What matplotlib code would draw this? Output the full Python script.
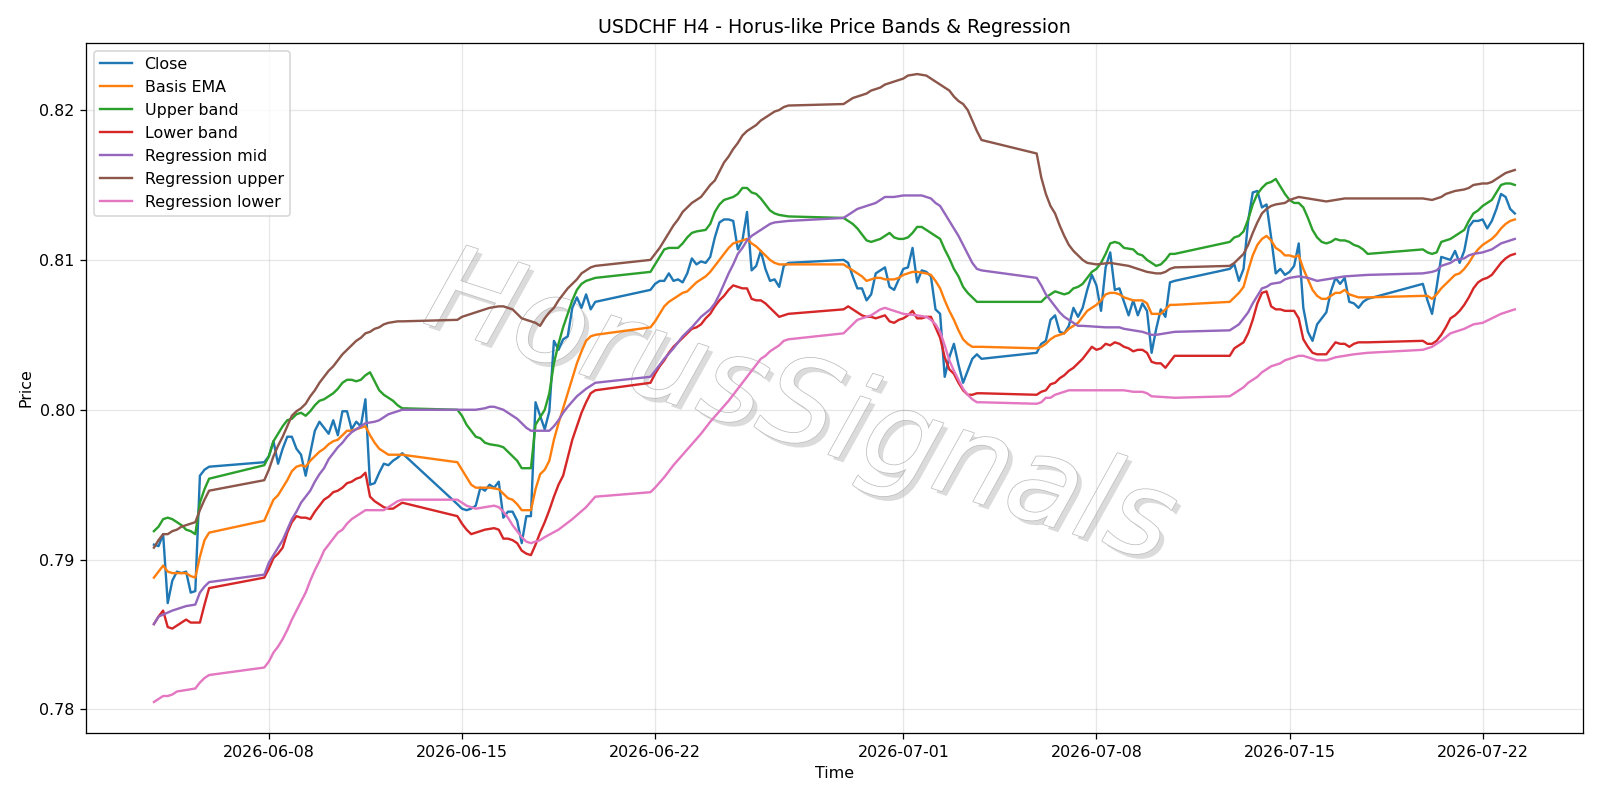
import matplotlib
matplotlib.use("Agg")
import matplotlib.pyplot as plt
import matplotlib.patheffects as pe
import pandas as pd

# (MM-DD HH, value), year 2026
close = [
    ("06-03 20", 0.7910), ("06-04 00", 0.7909), ("06-04 04", 0.7917), ("06-04 08", 0.7871), ("06-04 12", 0.7886),
    ("06-04 16", 0.7892), ("06-04 20", 0.7891), ("06-05 00", 0.7892), ("06-05 04", 0.7878), ("06-05 08", 0.7879),
    ("06-05 12", 0.7956), ("06-05 16", 0.7960), ("06-05 20", 0.7962),
    ("06-07 20", 0.7965), ("06-08 00", 0.7969), ("06-08 04", 0.7979), ("06-08 08", 0.7964), ("06-08 12", 0.7974),
    ("06-08 16", 0.7982), ("06-08 20", 0.7982), ("06-09 00", 0.7974), ("06-09 04", 0.7970), ("06-09 08", 0.7956),
    ("06-09 12", 0.7971), ("06-09 16", 0.7986), ("06-09 20", 0.7992), ("06-10 00", 0.7988), ("06-10 04", 0.7984),
    ("06-10 08", 0.7993), ("06-10 12", 0.7983), ("06-10 16", 0.7999), ("06-10 20", 0.7999), ("06-11 00", 0.7987),
    ("06-11 04", 0.7992), ("06-11 08", 0.7989), ("06-11 12", 0.8007), ("06-11 16", 0.7950), ("06-11 20", 0.7951),
    ("06-12 00", 0.7958), ("06-12 04", 0.7964), ("06-12 08", 0.7963), ("06-12 12", 0.7966), ("06-12 16", 0.7968),
    ("06-12 20", 0.7971),
    ("06-14 20", 0.7937), ("06-15 00", 0.7934), ("06-15 04", 0.7933), ("06-15 08", 0.7934), ("06-15 12", 0.7936),
    ("06-15 16", 0.7948), ("06-15 20", 0.7946), ("06-16 00", 0.7950), ("06-16 04", 0.7948), ("06-16 08", 0.7952),
    ("06-16 12", 0.7928), ("06-16 16", 0.7932), ("06-16 20", 0.7932), ("06-17 00", 0.7926), ("06-17 04", 0.7911),
    ("06-17 08", 0.7929), ("06-17 12", 0.7929), ("06-17 16", 0.8005), ("06-17 20", 0.7996), ("06-18 00", 0.7987),
    ("06-18 04", 0.7999), ("06-18 08", 0.8046), ("06-18 12", 0.8040), ("06-18 16", 0.8047), ("06-18 20", 0.8049),
    ("06-19 00", 0.8068), ("06-19 04", 0.8075), ("06-19 08", 0.8068), ("06-19 12", 0.8077), ("06-19 16", 0.8067),
    ("06-19 20", 0.8072),
    ("06-21 20", 0.8080), ("06-22 00", 0.8084), ("06-22 04", 0.8086), ("06-22 08", 0.8086), ("06-22 12", 0.8091),
    ("06-22 16", 0.8086), ("06-22 20", 0.8087), ("06-23 00", 0.8085), ("06-23 04", 0.8091), ("06-23 08", 0.8101),
    ("06-23 12", 0.8097), ("06-23 16", 0.8099), ("06-23 20", 0.8098), ("06-24 00", 0.8102), ("06-24 04", 0.8115),
    ("06-24 08", 0.8125), ("06-24 12", 0.8127), ("06-24 16", 0.8127), ("06-24 20", 0.8126), ("06-25 00", 0.8107),
    ("06-25 04", 0.8113), ("06-25 08", 0.8132), ("06-25 12", 0.8093), ("06-25 16", 0.8096), ("06-25 20", 0.8106),
    ("06-26 00", 0.8094), ("06-26 04", 0.8086), ("06-26 08", 0.8087), ("06-26 12", 0.8082), ("06-26 16", 0.8096),
    ("06-26 20", 0.8098),
    ("06-28 20", 0.8100), ("06-29 00", 0.8098), ("06-29 04", 0.8089), ("06-29 08", 0.8081), ("06-29 12", 0.8081),
    ("06-29 16", 0.8073), ("06-29 20", 0.8077), ("06-30 00", 0.8091), ("06-30 04", 0.8093), ("06-30 08", 0.8095),
    ("06-30 12", 0.8082), ("06-30 16", 0.8080), ("06-30 20", 0.8087), ("07-01 00", 0.8094), ("07-01 04", 0.8095),
    ("07-01 08", 0.8108), ("07-01 12", 0.8085), ("07-01 16", 0.8093), ("07-01 20", 0.8092), ("07-02 00", 0.8089),
    ("07-02 04", 0.8067), ("07-02 08", 0.8064), ("07-02 12", 0.8022), ("07-02 16", 0.8035), ("07-02 20", 0.8044),
    ("07-03 00", 0.8030), ("07-03 04", 0.8018), ("07-03 08", 0.8026), ("07-03 12", 0.8034), ("07-03 16", 0.8037),
    ("07-03 20", 0.8034),
    ("07-05 20", 0.8038), ("07-06 00", 0.8044), ("07-06 04", 0.8046), ("07-06 08", 0.8060), ("07-06 12", 0.8063),
    ("07-06 16", 0.8052), ("07-06 20", 0.8051), ("07-07 00", 0.8056), ("07-07 04", 0.8068), ("07-07 08", 0.8062),
    ("07-07 12", 0.8068), ("07-07 16", 0.8080), ("07-07 20", 0.8090), ("07-08 00", 0.8083), ("07-08 04", 0.8066),
    ("07-08 08", 0.8095), ("07-08 12", 0.8105), ("07-08 16", 0.8080), ("07-08 20", 0.8081), ("07-09 00", 0.8072),
    ("07-09 04", 0.8063), ("07-09 08", 0.8073), ("07-09 12", 0.8063), ("07-09 16", 0.8071), ("07-09 20", 0.8066),
    ("07-10 00", 0.8038), ("07-10 04", 0.8054), ("07-10 08", 0.8067), ("07-10 12", 0.8062), ("07-10 16", 0.8085),
    ("07-10 20", 0.8086),
    ("07-12 20", 0.8094), ("07-13 00", 0.8097), ("07-13 04", 0.8086), ("07-13 08", 0.8094), ("07-13 12", 0.8126),
    ("07-13 16", 0.8145), ("07-13 20", 0.8146), ("07-14 00", 0.8135), ("07-14 04", 0.8137), ("07-14 08", 0.8115),
    ("07-14 12", 0.8091), ("07-14 16", 0.8094), ("07-14 20", 0.8090), ("07-15 00", 0.8092), ("07-15 04", 0.8096),
    ("07-15 08", 0.8111), ("07-15 12", 0.8068), ("07-15 16", 0.8052), ("07-15 20", 0.8046), ("07-16 00", 0.8057),
    ("07-16 04", 0.8061), ("07-16 08", 0.8065), ("07-16 12", 0.8079), ("07-16 16", 0.8088), ("07-16 20", 0.8084),
    ("07-17 00", 0.8088), ("07-17 04", 0.8072), ("07-17 08", 0.8071), ("07-17 12", 0.8068), ("07-17 16", 0.8072),
    ("07-17 20", 0.8074),
    ("07-19 20", 0.8084), ("07-20 00", 0.8073), ("07-20 04", 0.8064), ("07-20 08", 0.8082), ("07-20 12", 0.8102),
    ("07-20 16", 0.8101), ("07-20 20", 0.8100), ("07-21 00", 0.8106), ("07-21 04", 0.8098), ("07-21 08", 0.8106),
    ("07-21 12", 0.8122), ("07-21 16", 0.8126), ("07-21 20", 0.8126), ("07-22 00", 0.8127), ("07-22 04", 0.8121),
    ("07-22 08", 0.8126), ("07-22 12", 0.8134), ("07-22 16", 0.8144), ("07-22 20", 0.8142), ("07-23 00", 0.8134),
    ("07-23 04", 0.8131),
]

basis_ema = [
    ("06-03 20", 0.7888), ("06-04 00", 0.7892), ("06-04 04", 0.7896), ("06-04 08", 0.7892), ("06-04 12", 0.7891),
    ("06-05 00", 0.7891), ("06-05 04", 0.7889), ("06-05 08", 0.7888), ("06-05 12", 0.7902), ("06-05 16", 0.7913),
    ("06-05 20", 0.7918),
    ("06-07 20", 0.7926), ("06-08 00", 0.7933), ("06-08 04", 0.7940), ("06-08 08", 0.7943), ("06-08 12", 0.7948),
    ("06-08 16", 0.7953), ("06-08 20", 0.7959), ("06-09 00", 0.7962), ("06-09 04", 0.7963), ("06-09 08", 0.7962),
    ("06-09 12", 0.7966), ("06-09 16", 0.7969), ("06-09 20", 0.7972), ("06-10 00", 0.7974), ("06-10 04", 0.7977),
    ("06-10 08", 0.7979), ("06-10 12", 0.7980), ("06-10 16", 0.7983), ("06-10 20", 0.7986), ("06-11 00", 0.7986),
    ("06-11 04", 0.7987), ("06-11 08", 0.7988), ("06-11 12", 0.7989), ("06-11 16", 0.7983), ("06-11 20", 0.7978),
    ("06-12 00", 0.7974), ("06-12 04", 0.7972), ("06-12 08", 0.7970), ("06-12 12", 0.7970), ("06-12 20", 0.7970),
    ("06-14 20", 0.7965), ("06-15 00", 0.7960), ("06-15 04", 0.7955), ("06-15 08", 0.7950), ("06-15 12", 0.7948),
    ("06-16 00", 0.7948), ("06-16 08", 0.7947), ("06-16 12", 0.7944), ("06-16 16", 0.7941), ("06-16 20", 0.7940),
    ("06-17 00", 0.7937), ("06-17 04", 0.7933), ("06-17 08", 0.7933), ("06-17 12", 0.7933), ("06-17 16", 0.7947),
    ("06-17 20", 0.7957), ("06-18 00", 0.7960), ("06-18 04", 0.7966), ("06-18 08", 0.7980), ("06-18 12", 0.7991),
    ("06-18 16", 0.8001), ("06-18 20", 0.8011), ("06-19 00", 0.8021), ("06-19 04", 0.8031), ("06-19 08", 0.8039),
    ("06-19 12", 0.8046), ("06-19 16", 0.8049), ("06-19 20", 0.8050),
    ("06-21 20", 0.8055), ("06-22 00", 0.8059), ("06-22 04", 0.8064), ("06-22 08", 0.8069), ("06-22 12", 0.8072),
    ("06-22 16", 0.8074), ("06-22 20", 0.8076), ("06-23 00", 0.8078), ("06-23 04", 0.8079), ("06-23 08", 0.8082),
    ("06-23 12", 0.8085), ("06-23 16", 0.8087), ("06-23 20", 0.8089), ("06-24 00", 0.8092), ("06-24 04", 0.8096),
    ("06-24 08", 0.8100), ("06-24 12", 0.8104), ("06-24 16", 0.8108), ("06-24 20", 0.8111), ("06-25 00", 0.8112),
    ("06-25 04", 0.8113), ("06-25 08", 0.8114), ("06-25 12", 0.8111), ("06-25 16", 0.8109), ("06-25 20", 0.8106),
    ("06-26 00", 0.8103), ("06-26 04", 0.8100), ("06-26 08", 0.8098), ("06-26 12", 0.8097), ("06-26 20", 0.8097),
    ("06-28 20", 0.8097), ("06-29 00", 0.8095), ("06-29 04", 0.8093), ("06-29 08", 0.8091), ("06-29 12", 0.8089),
    ("06-29 16", 0.8086), ("06-29 20", 0.8087), ("06-30 00", 0.8088), ("06-30 04", 0.8088), ("06-30 08", 0.8087),
    ("06-30 16", 0.8087), ("06-30 20", 0.8088), ("07-01 00", 0.8090), ("07-01 04", 0.8091), ("07-01 08", 0.8092),
    ("07-01 12", 0.8092), ("07-01 20", 0.8091), ("07-02 00", 0.8090), ("07-02 04", 0.8086), ("07-02 08", 0.8081),
    ("07-02 12", 0.8073), ("07-02 16", 0.8066), ("07-02 20", 0.8060), ("07-03 00", 0.8053), ("07-03 04", 0.8047),
    ("07-03 08", 0.8044), ("07-03 12", 0.8042), ("07-03 20", 0.8042),
    ("07-05 20", 0.8041), ("07-06 00", 0.8042), ("07-06 04", 0.8044), ("07-06 08", 0.8047), ("07-06 12", 0.8049),
    ("07-06 16", 0.8050), ("07-06 20", 0.8051), ("07-07 00", 0.8054), ("07-07 04", 0.8056), ("07-07 08", 0.8058),
    ("07-07 12", 0.8062), ("07-07 16", 0.8066), ("07-07 20", 0.8068), ("07-08 00", 0.8070), ("07-08 04", 0.8073),
    ("07-08 08", 0.8077), ("07-08 12", 0.8078), ("07-08 16", 0.8078), ("07-08 20", 0.8077), ("07-09 00", 0.8075),
    ("07-09 04", 0.8074), ("07-09 08", 0.8073), ("07-09 16", 0.8073), ("07-09 20", 0.8071), ("07-10 00", 0.8064),
    ("07-10 08", 0.8064), ("07-10 12", 0.8067), ("07-10 16", 0.8070), ("07-10 20", 0.8070),
    ("07-12 20", 0.8072), ("07-13 00", 0.8075), ("07-13 04", 0.8078), ("07-13 08", 0.8082), ("07-13 12", 0.8093),
    ("07-13 16", 0.8103), ("07-13 20", 0.8110), ("07-14 00", 0.8114), ("07-14 04", 0.8116), ("07-14 08", 0.8113),
    ("07-14 12", 0.8108), ("07-14 16", 0.8106), ("07-14 20", 0.8103), ("07-15 00", 0.8103), ("07-15 04", 0.8102),
    ("07-15 08", 0.8103), ("07-15 12", 0.8094), ("07-15 16", 0.8087), ("07-15 20", 0.8080), ("07-16 00", 0.8076),
    ("07-16 04", 0.8074), ("07-16 08", 0.8074), ("07-16 12", 0.8076), ("07-16 16", 0.8078), ("07-16 20", 0.8078),
    ("07-17 00", 0.8080), ("07-17 04", 0.8077), ("07-17 08", 0.8076), ("07-17 12", 0.8075), ("07-17 20", 0.8075),
    ("07-19 20", 0.8076), ("07-20 00", 0.8076), ("07-20 04", 0.8074), ("07-20 08", 0.8077), ("07-20 12", 0.8081),
    ("07-20 16", 0.8084), ("07-20 20", 0.8087), ("07-21 00", 0.8090), ("07-21 04", 0.8091), ("07-21 08", 0.8094),
    ("07-21 12", 0.8098), ("07-21 16", 0.8103), ("07-21 20", 0.8107), ("07-22 00", 0.8110), ("07-22 04", 0.8112),
    ("07-22 08", 0.8114), ("07-22 12", 0.8117), ("07-22 16", 0.8121), ("07-22 20", 0.8124), ("07-23 00", 0.8126),
    ("07-23 04", 0.8127),
]

upper_band = [
    ("06-03 20", 0.7919), ("06-04 00", 0.7922), ("06-04 04", 0.7927), ("06-04 08", 0.7928), ("06-04 12", 0.7927),
    ("06-04 16", 0.7925), ("06-04 20", 0.7923), ("06-05 00", 0.7920), ("06-05 04", 0.7919), ("06-05 08", 0.7917),
    ("06-05 12", 0.7938), ("06-05 16", 0.7947), ("06-05 20", 0.7954),
    ("06-07 20", 0.7963), ("06-08 00", 0.7969), ("06-08 04", 0.7979), ("06-08 08", 0.7984), ("06-08 12", 0.7989),
    ("06-08 16", 0.7993), ("06-08 20", 0.7994), ("06-09 00", 0.7997), ("06-09 04", 0.7998), ("06-09 08", 0.7996),
    ("06-09 12", 0.7999), ("06-09 16", 0.8003), ("06-09 20", 0.8006), ("06-10 00", 0.8007), ("06-10 04", 0.8009),
    ("06-10 08", 0.8011), ("06-10 12", 0.8014), ("06-10 16", 0.8018), ("06-10 20", 0.8020), ("06-11 00", 0.8020),
    ("06-11 04", 0.8019), ("06-11 08", 0.8020), ("06-11 12", 0.8023), ("06-11 16", 0.8025), ("06-11 20", 0.8019),
    ("06-12 00", 0.8013), ("06-12 04", 0.8010), ("06-12 08", 0.8008), ("06-12 12", 0.8006), ("06-12 16", 0.8003),
    ("06-12 20", 0.8001),
    ("06-14 20", 0.8000), ("06-15 00", 0.7996), ("06-15 04", 0.7990), ("06-15 08", 0.7986), ("06-15 12", 0.7982),
    ("06-15 16", 0.7981), ("06-15 20", 0.7978), ("06-16 00", 0.7977), ("06-16 08", 0.7976), ("06-16 12", 0.7975),
    ("06-16 16", 0.7972), ("06-16 20", 0.7969), ("06-17 00", 0.7966), ("06-17 04", 0.7961), ("06-17 12", 0.7961),
    ("06-17 16", 0.7990), ("06-17 20", 0.7995), ("06-18 00", 0.8000), ("06-18 04", 0.8011), ("06-18 08", 0.8031),
    ("06-18 12", 0.8044), ("06-18 16", 0.8055), ("06-18 20", 0.8064), ("06-19 00", 0.8073), ("06-19 04", 0.8080),
    ("06-19 08", 0.8084), ("06-19 12", 0.8086), ("06-19 16", 0.8087), ("06-19 20", 0.8088),
    ("06-21 20", 0.8092), ("06-22 00", 0.8097), ("06-22 04", 0.8102), ("06-22 08", 0.8107), ("06-22 12", 0.8108),
    ("06-22 20", 0.8108), ("06-23 00", 0.8111), ("06-23 04", 0.8115), ("06-23 08", 0.8118), ("06-23 12", 0.8119),
    ("06-23 20", 0.8120), ("06-24 00", 0.8124), ("06-24 04", 0.8132), ("06-24 08", 0.8137), ("06-24 12", 0.8140),
    ("06-24 16", 0.8141), ("06-24 20", 0.8142), ("06-25 00", 0.8144), ("06-25 04", 0.8148), ("06-25 08", 0.8148),
    ("06-25 12", 0.8145), ("06-25 16", 0.8144), ("06-25 20", 0.8141), ("06-26 00", 0.8137), ("06-26 04", 0.8133),
    ("06-26 08", 0.8131), ("06-26 12", 0.8130), ("06-26 20", 0.8129),
    ("06-28 20", 0.8128), ("06-29 00", 0.8126), ("06-29 04", 0.8124), ("06-29 08", 0.8121), ("06-29 12", 0.8117),
    ("06-29 16", 0.8113), ("06-29 20", 0.8112), ("06-30 00", 0.8113), ("06-30 04", 0.8114), ("06-30 08", 0.8116),
    ("06-30 12", 0.8118), ("06-30 16", 0.8115), ("06-30 20", 0.8114), ("07-01 00", 0.8114), ("07-01 04", 0.8115),
    ("07-01 08", 0.8118), ("07-01 12", 0.8122), ("07-01 16", 0.8122), ("07-01 20", 0.8120), ("07-02 00", 0.8118),
    ("07-02 04", 0.8116), ("07-02 08", 0.8114), ("07-02 12", 0.8107), ("07-02 16", 0.8101), ("07-02 20", 0.8094),
    ("07-03 00", 0.8089), ("07-03 04", 0.8082), ("07-03 08", 0.8078), ("07-03 12", 0.8075), ("07-03 16", 0.8072),
    ("07-03 20", 0.8072),
    ("07-05 20", 0.8072), ("07-06 00", 0.8072), ("07-06 04", 0.8075), ("07-06 08", 0.8077), ("07-06 12", 0.8079),
    ("07-06 16", 0.8078), ("07-06 20", 0.8077), ("07-07 00", 0.8078), ("07-07 04", 0.8081), ("07-07 08", 0.8082),
    ("07-07 12", 0.8084), ("07-07 16", 0.8088), ("07-07 20", 0.8092), ("07-08 00", 0.8094), ("07-08 04", 0.8098),
    ("07-08 08", 0.8104), ("07-08 12", 0.8111), ("07-08 16", 0.8112), ("07-08 20", 0.8111), ("07-09 00", 0.8108),
    ("07-09 08", 0.8107), ("07-09 12", 0.8104), ("07-09 16", 0.8103), ("07-09 20", 0.8100), ("07-10 00", 0.8098),
    ("07-10 04", 0.8096), ("07-10 08", 0.8097), ("07-10 12", 0.8100), ("07-10 16", 0.8104), ("07-10 20", 0.8104),
    ("07-12 20", 0.8112), ("07-13 00", 0.8115), ("07-13 04", 0.8116), ("07-13 08", 0.8119), ("07-13 12", 0.8127),
    ("07-13 16", 0.8137), ("07-13 20", 0.8144), ("07-14 00", 0.8148), ("07-14 04", 0.8151), ("07-14 08", 0.8152),
    ("07-14 12", 0.8154), ("07-14 16", 0.8149), ("07-14 20", 0.8144), ("07-15 00", 0.8140), ("07-15 04", 0.8138),
    ("07-15 08", 0.8138), ("07-15 12", 0.8135), ("07-15 16", 0.8128), ("07-15 20", 0.8120), ("07-16 00", 0.8115),
    ("07-16 04", 0.8112), ("07-16 08", 0.8111), ("07-16 12", 0.8112), ("07-16 16", 0.8114), ("07-16 20", 0.8113),
    ("07-17 00", 0.8113), ("07-17 04", 0.8112), ("07-17 08", 0.8110), ("07-17 12", 0.8109), ("07-17 16", 0.8107),
    ("07-17 20", 0.8104),
    ("07-19 20", 0.8107), ("07-20 00", 0.8105), ("07-20 04", 0.8104), ("07-20 08", 0.8105), ("07-20 12", 0.8112),
    ("07-20 16", 0.8113), ("07-20 20", 0.8114), ("07-21 00", 0.8116), ("07-21 04", 0.8118), ("07-21 08", 0.8120),
    ("07-21 12", 0.8126), ("07-21 16", 0.8131), ("07-21 20", 0.8133), ("07-22 00", 0.8136), ("07-22 04", 0.8138),
    ("07-22 08", 0.8140), ("07-22 12", 0.8145), ("07-22 16", 0.8150), ("07-22 20", 0.8151), ("07-23 00", 0.8151),
    ("07-23 04", 0.8150),
]

lower_band = [
    ("06-03 20", 0.7857), ("06-04 00", 0.7862), ("06-04 04", 0.7866), ("06-04 08", 0.7855), ("06-04 12", 0.7854),
    ("06-04 16", 0.7856), ("06-04 20", 0.7858), ("06-05 00", 0.7860), ("06-05 04", 0.7858), ("06-05 12", 0.7858),
    ("06-05 16", 0.7870), ("06-05 20", 0.7881),
    ("06-07 20", 0.7888), ("06-08 00", 0.7894), ("06-08 04", 0.7901), ("06-08 08", 0.7904), ("06-08 12", 0.7908),
    ("06-08 16", 0.7918), ("06-08 20", 0.7925), ("06-09 00", 0.7929), ("06-09 04", 0.7928), ("06-09 08", 0.7928),
    ("06-09 12", 0.7927), ("06-09 16", 0.7932), ("06-09 20", 0.7936), ("06-10 00", 0.7940), ("06-10 04", 0.7942),
    ("06-10 08", 0.7945), ("06-10 12", 0.7946), ("06-10 16", 0.7948), ("06-10 20", 0.7951), ("06-11 00", 0.7952),
    ("06-11 04", 0.7954), ("06-11 08", 0.7955), ("06-11 12", 0.7958), ("06-11 16", 0.7942), ("06-11 20", 0.7939),
    ("06-12 00", 0.7937), ("06-12 04", 0.7935), ("06-12 08", 0.7934), ("06-12 12", 0.7934), ("06-12 16", 0.7936),
    ("06-12 20", 0.7938),
    ("06-14 20", 0.7929), ("06-15 00", 0.7924), ("06-15 04", 0.7920), ("06-15 08", 0.7917), ("06-15 12", 0.7918),
    ("06-15 16", 0.7919), ("06-15 20", 0.7920), ("06-16 04", 0.7921), ("06-16 08", 0.7920), ("06-16 12", 0.7914),
    ("06-16 16", 0.7914), ("06-16 20", 0.7913), ("06-17 00", 0.7911), ("06-17 04", 0.7906), ("06-17 08", 0.7904),
    ("06-17 12", 0.7903), ("06-17 16", 0.7910), ("06-17 20", 0.7918), ("06-18 00", 0.7925), ("06-18 04", 0.7933),
    ("06-18 08", 0.7942), ("06-18 12", 0.7950), ("06-18 16", 0.7956), ("06-18 20", 0.7968), ("06-19 00", 0.7980),
    ("06-19 04", 0.7989), ("06-19 08", 0.7998), ("06-19 12", 0.8005), ("06-19 16", 0.8011), ("06-19 20", 0.8013),
    ("06-21 20", 0.8018), ("06-22 00", 0.8024), ("06-22 04", 0.8029), ("06-22 08", 0.8033), ("06-22 12", 0.8038),
    ("06-22 16", 0.8042), ("06-22 20", 0.8045), ("06-23 00", 0.8048), ("06-23 04", 0.8051), ("06-23 08", 0.8054),
    ("06-23 12", 0.8055), ("06-23 16", 0.8057), ("06-23 20", 0.8061), ("06-24 00", 0.8064), ("06-24 04", 0.8069),
    ("06-24 08", 0.8073), ("06-24 12", 0.8076), ("06-24 16", 0.8080), ("06-24 20", 0.8083), ("06-25 00", 0.8082),
    ("06-25 04", 0.8081), ("06-25 08", 0.8081), ("06-25 12", 0.8074), ("06-25 16", 0.8073), ("06-25 20", 0.8073),
    ("06-26 00", 0.8071), ("06-26 04", 0.8068), ("06-26 08", 0.8065), ("06-26 12", 0.8062), ("06-26 16", 0.8063),
    ("06-26 20", 0.8064),
    ("06-28 20", 0.8067), ("06-29 00", 0.8069), ("06-29 04", 0.8067), ("06-29 08", 0.8065), ("06-29 12", 0.8063),
    ("06-29 16", 0.8062), ("06-29 20", 0.8062), ("06-30 00", 0.8061), ("06-30 04", 0.8062), ("06-30 08", 0.8063),
    ("06-30 12", 0.8059), ("06-30 16", 0.8058), ("06-30 20", 0.8060), ("07-01 00", 0.8061), ("07-01 04", 0.8063),
    ("07-01 08", 0.8066), ("07-01 12", 0.8061), ("07-01 16", 0.8061), ("07-01 20", 0.8062), ("07-02 00", 0.8062),
    ("07-02 04", 0.8055), ("07-02 08", 0.8048), ("07-02 12", 0.8035), ("07-02 16", 0.8027), ("07-02 20", 0.8024),
    ("07-03 00", 0.8018), ("07-03 04", 0.8013), ("07-03 08", 0.8010), ("07-03 12", 0.8010), ("07-03 16", 0.8011),
    ("07-03 20", 0.8011),
    ("07-05 20", 0.8010), ("07-06 00", 0.8012), ("07-06 04", 0.8013), ("07-06 08", 0.8017), ("07-06 12", 0.8018),
    ("07-06 16", 0.8021), ("07-06 20", 0.8023), ("07-07 00", 0.8026), ("07-07 04", 0.8028), ("07-07 08", 0.8031),
    ("07-07 12", 0.8034), ("07-07 16", 0.8038), ("07-07 20", 0.8042), ("07-08 00", 0.8040), ("07-08 04", 0.8041),
    ("07-08 08", 0.8044), ("07-08 12", 0.8043), ("07-08 16", 0.8045), ("07-08 20", 0.8044), ("07-09 00", 0.8042),
    ("07-09 04", 0.8041), ("07-09 08", 0.8039), ("07-09 12", 0.8040), ("07-09 16", 0.8040), ("07-09 20", 0.8038),
    ("07-10 00", 0.8032), ("07-10 04", 0.8031), ("07-10 08", 0.8031), ("07-10 12", 0.8028), ("07-10 16", 0.8032),
    ("07-10 20", 0.8036),
    ("07-12 20", 0.8036), ("07-13 00", 0.8041), ("07-13 04", 0.8043), ("07-13 08", 0.8045), ("07-13 12", 0.8051),
    ("07-13 16", 0.8060), ("07-13 20", 0.8071), ("07-14 00", 0.8078), ("07-14 04", 0.8079), ("07-14 08", 0.8069),
    ("07-14 12", 0.8067), ("07-14 16", 0.8067), ("07-14 20", 0.8066), ("07-15 04", 0.8066), ("07-15 08", 0.8061),
    ("07-15 12", 0.8047), ("07-15 16", 0.8042), ("07-15 20", 0.8038), ("07-16 00", 0.8037), ("07-16 08", 0.8037),
    ("07-16 12", 0.8041), ("07-16 16", 0.8045), ("07-16 20", 0.8044), ("07-17 00", 0.8044), ("07-17 04", 0.8042),
    ("07-17 08", 0.8044), ("07-17 12", 0.8045), ("07-17 20", 0.8045),
    ("07-19 20", 0.8046), ("07-20 00", 0.8044), ("07-20 04", 0.8044), ("07-20 08", 0.8046), ("07-20 12", 0.8050),
    ("07-20 16", 0.8055), ("07-20 20", 0.8061), ("07-21 00", 0.8063), ("07-21 04", 0.8066), ("07-21 08", 0.8070),
    ("07-21 12", 0.8075), ("07-21 16", 0.8081), ("07-21 20", 0.8085), ("07-22 00", 0.8087), ("07-22 04", 0.8088),
    ("07-22 08", 0.8090), ("07-22 12", 0.8094), ("07-22 16", 0.8098), ("07-22 20", 0.8101), ("07-23 00", 0.8103),
    ("07-23 04", 0.8104),
]

reg_mid = [
    ("06-03 20", 0.7857), ("06-04 00", 0.7862), ("06-04 12", 0.7866), ("06-05 00", 0.7869), ("06-05 08", 0.7870),
    ("06-05 12", 0.7878), ("06-05 16", 0.7882), ("06-05 20", 0.7885),
    ("06-07 20", 0.7890), ("06-08 00", 0.7898), ("06-08 04", 0.7903), ("06-08 08", 0.7908), ("06-08 12", 0.7913),
    ("06-08 16", 0.7920), ("06-08 20", 0.7927), ("06-09 00", 0.7932), ("06-09 04", 0.7938), ("06-09 08", 0.7942),
    ("06-09 12", 0.7946), ("06-09 16", 0.7952), ("06-09 20", 0.7957), ("06-10 00", 0.7961), ("06-10 04", 0.7967),
    ("06-10 08", 0.7971), ("06-10 12", 0.7975), ("06-10 16", 0.7978), ("06-10 20", 0.7982), ("06-11 00", 0.7985),
    ("06-11 04", 0.7987), ("06-11 08", 0.7989), ("06-11 12", 0.7991), ("06-11 20", 0.7992), ("06-12 00", 0.7993),
    ("06-12 04", 0.7995), ("06-12 08", 0.7997), ("06-12 12", 0.7998), ("06-12 20", 0.8000),
    ("06-14 20", 0.8000), ("06-15 12", 0.8000), ("06-15 20", 0.8001), ("06-16 00", 0.8002), ("06-16 04", 0.8002),
    ("06-16 08", 0.8001), ("06-16 12", 0.8000), ("06-16 16", 0.7998), ("06-16 20", 0.7996), ("06-17 00", 0.7994),
    ("06-17 04", 0.7991), ("06-17 08", 0.7988), ("06-17 12", 0.7986), ("06-18 04", 0.7986), ("06-18 08", 0.7989),
    ("06-18 12", 0.7993), ("06-18 16", 0.7998), ("06-18 20", 0.8002), ("06-19 04", 0.8009), ("06-19 12", 0.8014),
    ("06-19 20", 0.8018),
    ("06-21 20", 0.8022), ("06-22 00", 0.8026), ("06-22 08", 0.8034), ("06-22 16", 0.8041), ("06-23 00", 0.8049),
    ("06-23 08", 0.8055), ("06-23 16", 0.8062), ("06-24 00", 0.8067), ("06-24 04", 0.8071), ("06-24 08", 0.8077),
    ("06-24 12", 0.8084), ("06-24 16", 0.8091), ("06-24 20", 0.8097), ("06-25 00", 0.8104), ("06-25 04", 0.8108),
    ("06-25 08", 0.8113), ("06-25 12", 0.8116), ("06-25 16", 0.8118), ("06-25 20", 0.8120), ("06-26 00", 0.8122),
    ("06-26 04", 0.8124), ("06-26 08", 0.8125), ("06-26 20", 0.8126),
    ("06-28 20", 0.8128), ("06-29 00", 0.8130), ("06-29 08", 0.8134), ("06-29 16", 0.8136), ("06-30 00", 0.8138),
    ("06-30 08", 0.8142), ("06-30 16", 0.8142), ("07-01 00", 0.8143), ("07-01 16", 0.8143), ("07-02 00", 0.8141),
    ("07-02 04", 0.8138), ("07-02 08", 0.8136), ("07-02 12", 0.8131), ("07-02 16", 0.8126), ("07-02 20", 0.8121),
    ("07-03 00", 0.8116), ("07-03 04", 0.8110), ("07-03 08", 0.8104), ("07-03 12", 0.8098), ("07-03 16", 0.8094),
    ("07-03 20", 0.8093),
    ("07-05 20", 0.8088), ("07-06 00", 0.8083), ("07-06 04", 0.8077), ("07-06 08", 0.8073), ("07-06 12", 0.8069),
    ("07-06 16", 0.8065), ("07-06 20", 0.8062), ("07-07 00", 0.8060), ("07-07 04", 0.8058), ("07-07 08", 0.8056),
    ("07-07 12", 0.8056), ("07-08 08", 0.8055), ("07-08 20", 0.8055), ("07-09 00", 0.8054), ("07-09 08", 0.8053),
    ("07-09 16", 0.8052), ("07-10 00", 0.8050), ("07-10 04", 0.8050), ("07-10 12", 0.8051), ("07-10 20", 0.8052),
    ("07-12 20", 0.8053), ("07-13 00", 0.8055), ("07-13 04", 0.8057), ("07-13 08", 0.8061), ("07-13 12", 0.8065),
    ("07-13 16", 0.8071), ("07-13 20", 0.8076), ("07-14 00", 0.8081), ("07-14 04", 0.8082), ("07-14 08", 0.8084),
    ("07-14 16", 0.8085), ("07-14 20", 0.8087), ("07-15 00", 0.8088), ("07-15 08", 0.8089), ("07-15 16", 0.8088),
    ("07-16 00", 0.8086), ("07-16 08", 0.8087), ("07-16 16", 0.8088), ("07-17 00", 0.8089), ("07-17 20", 0.8090),
    ("07-19 20", 0.8091), ("07-20 04", 0.8092), ("07-20 08", 0.8093), ("07-20 12", 0.8096), ("07-20 16", 0.8097),
    ("07-20 20", 0.8098), ("07-21 00", 0.8100), ("07-21 08", 0.8101), ("07-21 12", 0.8103), ("07-21 16", 0.8104),
    ("07-22 00", 0.8105), ("07-22 04", 0.8106), ("07-22 08", 0.8107), ("07-22 12", 0.8109), ("07-22 16", 0.8111),
    ("07-22 20", 0.8112), ("07-23 00", 0.8113), ("07-23 04", 0.8114),
]

reg_upper = [
    ("06-03 20", 0.7908), ("06-04 00", 0.7913), ("06-04 04", 0.7917), ("06-04 08", 0.7917), ("06-04 12", 0.7919),
    ("06-04 16", 0.7920), ("06-04 20", 0.7922), ("06-05 00", 0.7923), ("06-05 04", 0.7924), ("06-05 08", 0.7925),
    ("06-05 12", 0.7933), ("06-05 16", 0.7940), ("06-05 20", 0.7946),
    ("06-07 20", 0.7953), ("06-08 00", 0.7960), ("06-08 04", 0.7969), ("06-08 08", 0.7976), ("06-08 12", 0.7982),
    ("06-08 16", 0.7989), ("06-08 20", 0.7996), ("06-09 00", 0.7999), ("06-09 04", 0.8001), ("06-09 08", 0.8004),
    ("06-09 12", 0.8009), ("06-09 16", 0.8013), ("06-09 20", 0.8018), ("06-10 00", 0.8022), ("06-10 04", 0.8026),
    ("06-10 08", 0.8029), ("06-10 12", 0.8033), ("06-10 16", 0.8037), ("06-10 20", 0.8040), ("06-11 00", 0.8043),
    ("06-11 04", 0.8046), ("06-11 08", 0.8048), ("06-11 12", 0.8051), ("06-11 16", 0.8052), ("06-11 20", 0.8054),
    ("06-12 00", 0.8055), ("06-12 04", 0.8057), ("06-12 08", 0.8058), ("06-12 16", 0.8059), ("06-12 20", 0.8059),
    ("06-14 20", 0.8060), ("06-15 00", 0.8062), ("06-15 04", 0.8063), ("06-15 08", 0.8064), ("06-15 12", 0.8065),
    ("06-15 16", 0.8066), ("06-15 20", 0.8067), ("06-16 00", 0.8068), ("06-16 08", 0.8069), ("06-16 12", 0.8069),
    ("06-16 16", 0.8068), ("06-16 20", 0.8067), ("06-17 00", 0.8064), ("06-17 04", 0.8061), ("06-17 08", 0.8060),
    ("06-17 12", 0.8059), ("06-17 16", 0.8058), ("06-17 20", 0.8056), ("06-18 00", 0.8061), ("06-18 04", 0.8065),
    ("06-18 08", 0.8068), ("06-18 12", 0.8073), ("06-18 16", 0.8077), ("06-18 20", 0.8081), ("06-19 00", 0.8084),
    ("06-19 04", 0.8087), ("06-19 08", 0.8091), ("06-19 12", 0.8093), ("06-19 16", 0.8095), ("06-19 20", 0.8096),
    ("06-21 20", 0.8100), ("06-22 00", 0.8104), ("06-22 04", 0.8108), ("06-22 08", 0.8113), ("06-22 12", 0.8118),
    ("06-22 16", 0.8123), ("06-22 20", 0.8127), ("06-23 00", 0.8132), ("06-23 04", 0.8135), ("06-23 08", 0.8138),
    ("06-23 12", 0.8140), ("06-23 16", 0.8142), ("06-23 20", 0.8146), ("06-24 00", 0.8150), ("06-24 04", 0.8153),
    ("06-24 08", 0.8159), ("06-24 12", 0.8165), ("06-24 16", 0.8169), ("06-24 20", 0.8174), ("06-25 00", 0.8178),
    ("06-25 04", 0.8183), ("06-25 08", 0.8186), ("06-25 12", 0.8188), ("06-25 16", 0.8190), ("06-25 20", 0.8193),
    ("06-26 00", 0.8195), ("06-26 04", 0.8197), ("06-26 08", 0.8199), ("06-26 12", 0.8200), ("06-26 16", 0.8202),
    ("06-26 20", 0.8203),
    ("06-28 20", 0.8204), ("06-29 00", 0.8206), ("06-29 04", 0.8208), ("06-29 08", 0.8209), ("06-29 12", 0.8210),
    ("06-29 16", 0.8211), ("06-29 20", 0.8213), ("06-30 00", 0.8214), ("06-30 04", 0.8215), ("06-30 08", 0.8217),
    ("06-30 12", 0.8218), ("06-30 16", 0.8219), ("06-30 20", 0.8220), ("07-01 00", 0.8221), ("07-01 04", 0.8223),
    ("07-01 12", 0.8224), ("07-01 20", 0.8223), ("07-02 00", 0.8221), ("07-02 04", 0.8219), ("07-02 08", 0.8217),
    ("07-02 12", 0.8215), ("07-02 16", 0.8213), ("07-02 20", 0.8209), ("07-03 00", 0.8206), ("07-03 04", 0.8204),
    ("07-03 08", 0.8200), ("07-03 12", 0.8193), ("07-03 16", 0.8186), ("07-03 20", 0.8180),
    ("07-05 20", 0.8171), ("07-06 00", 0.8155), ("07-06 04", 0.8144), ("07-06 08", 0.8136), ("07-06 12", 0.8131),
    ("07-06 16", 0.8123), ("07-06 20", 0.8116), ("07-07 00", 0.8110), ("07-07 04", 0.8106), ("07-07 08", 0.8103),
    ("07-07 12", 0.8100), ("07-07 16", 0.8098), ("07-08 00", 0.8097), ("07-08 12", 0.8098), ("07-08 20", 0.8097),
    ("07-09 04", 0.8096), ("07-09 08", 0.8095), ("07-09 12", 0.8094), ("07-09 16", 0.8093), ("07-09 20", 0.8092),
    ("07-10 04", 0.8091), ("07-10 08", 0.8091), ("07-10 12", 0.8092), ("07-10 16", 0.8094), ("07-10 20", 0.8095),
    ("07-12 20", 0.8096), ("07-13 00", 0.8098), ("07-13 04", 0.8101), ("07-13 08", 0.8104), ("07-13 12", 0.8110),
    ("07-13 16", 0.8118), ("07-13 20", 0.8125), ("07-14 00", 0.8131), ("07-14 04", 0.8134), ("07-14 08", 0.8136),
    ("07-14 12", 0.8137), ("07-14 20", 0.8138), ("07-15 00", 0.8140), ("07-15 08", 0.8142), ("07-15 16", 0.8141),
    ("07-16 00", 0.8140), ("07-16 08", 0.8139), ("07-16 16", 0.8140), ("07-17 00", 0.8141), ("07-17 20", 0.8141),
    ("07-19 20", 0.8141), ("07-20 04", 0.8140), ("07-20 08", 0.8141), ("07-20 12", 0.8142), ("07-20 16", 0.8144),
    ("07-21 00", 0.8146), ("07-21 08", 0.8147), ("07-21 12", 0.8148), ("07-21 16", 0.8150), ("07-22 00", 0.8151),
    ("07-22 04", 0.8151), ("07-22 08", 0.8152), ("07-22 12", 0.8154), ("07-22 16", 0.8156), ("07-22 20", 0.8158),
    ("07-23 00", 0.8159), ("07-23 04", 0.8160),
]

reg_lower = [
    ("06-03 20", 0.7805), ("06-04 00", 0.7807), ("06-04 04", 0.7809), ("06-04 08", 0.7809), ("06-04 12", 0.7810),
    ("06-04 16", 0.7812), ("06-05 00", 0.7813), ("06-05 08", 0.7814), ("06-05 12", 0.7818), ("06-05 16", 0.7821),
    ("06-05 20", 0.7823),
    ("06-07 20", 0.7828), ("06-08 00", 0.7832), ("06-08 04", 0.7838), ("06-08 08", 0.7842), ("06-08 12", 0.7847),
    ("06-08 16", 0.7853), ("06-08 20", 0.7860), ("06-09 00", 0.7866), ("06-09 04", 0.7872), ("06-09 08", 0.7878),
    ("06-09 12", 0.7886), ("06-09 16", 0.7893), ("06-09 20", 0.7899), ("06-10 00", 0.7906), ("06-10 04", 0.7910),
    ("06-10 08", 0.7914), ("06-10 12", 0.7918), ("06-10 16", 0.7920), ("06-10 20", 0.7924), ("06-11 00", 0.7927),
    ("06-11 04", 0.7929), ("06-11 08", 0.7931), ("06-11 12", 0.7933), ("06-12 04", 0.7933), ("06-12 08", 0.7935),
    ("06-12 12", 0.7937), ("06-12 16", 0.7939), ("06-12 20", 0.7940),
    ("06-14 20", 0.7940), ("06-15 04", 0.7936), ("06-15 12", 0.7934), ("06-15 20", 0.7935), ("06-16 04", 0.7936),
    ("06-16 08", 0.7935), ("06-16 12", 0.7932), ("06-16 16", 0.7928), ("06-16 20", 0.7923), ("06-17 00", 0.7919),
    ("06-17 04", 0.7915), ("06-17 08", 0.7912), ("06-17 12", 0.7911), ("06-17 16", 0.7912), ("06-17 20", 0.7913),
    ("06-18 00", 0.7915), ("06-18 12", 0.7920), ("06-19 00", 0.7927), ("06-19 12", 0.7935), ("06-19 20", 0.7942),
    ("06-21 20", 0.7945), ("06-22 00", 0.7948), ("06-22 08", 0.7955), ("06-22 16", 0.7963), ("06-23 00", 0.7970),
    ("06-23 08", 0.7977), ("06-23 16", 0.7984), ("06-24 00", 0.7992), ("06-24 08", 0.7999), ("06-24 16", 0.8006),
    ("06-25 00", 0.8014), ("06-25 08", 0.8022), ("06-25 16", 0.8030), ("06-25 20", 0.8034), ("06-26 00", 0.8036),
    ("06-26 04", 0.8039), ("06-26 08", 0.8041), ("06-26 12", 0.8043), ("06-26 16", 0.8046), ("06-26 20", 0.8047),
    ("06-28 20", 0.8051), ("06-29 00", 0.8054), ("06-29 04", 0.8057), ("06-29 08", 0.8060), ("06-29 12", 0.8061),
    ("06-29 16", 0.8062), ("06-29 20", 0.8063), ("06-30 00", 0.8065), ("06-30 04", 0.8067), ("06-30 08", 0.8068),
    ("06-30 12", 0.8067), ("06-30 16", 0.8066), ("06-30 20", 0.8065), ("07-01 00", 0.8064), ("07-01 12", 0.8063),
    ("07-01 20", 0.8062), ("07-02 00", 0.8060), ("07-02 04", 0.8057), ("07-02 08", 0.8052), ("07-02 12", 0.8043),
    ("07-02 16", 0.8033), ("07-02 20", 0.8026), ("07-03 00", 0.8020), ("07-03 04", 0.8014), ("07-03 08", 0.8010),
    ("07-03 12", 0.8007), ("07-03 16", 0.8005), ("07-03 20", 0.8005),
    ("07-05 20", 0.8004), ("07-06 00", 0.8005), ("07-06 04", 0.8008), ("07-06 08", 0.8008), ("07-06 12", 0.8010),
    ("07-06 16", 0.8011), ("07-06 20", 0.8012), ("07-07 00", 0.8013), ("07-08 16", 0.8013), ("07-09 00", 0.8013),
    ("07-09 08", 0.8012), ("07-09 16", 0.8012), ("07-09 20", 0.8011), ("07-10 00", 0.8009), ("07-10 20", 0.8008),
    ("07-12 20", 0.8009), ("07-13 00", 0.8011), ("07-13 04", 0.8013), ("07-13 08", 0.8015), ("07-13 12", 0.8018),
    ("07-13 16", 0.8020), ("07-13 20", 0.8022), ("07-14 00", 0.8025), ("07-14 04", 0.8027), ("07-14 08", 0.8029),
    ("07-14 12", 0.8030), ("07-14 16", 0.8031), ("07-14 20", 0.8033), ("07-15 00", 0.8034), ("07-15 04", 0.8035),
    ("07-15 08", 0.8036), ("07-15 12", 0.8036), ("07-15 16", 0.8035), ("07-15 20", 0.8034), ("07-16 00", 0.8033),
    ("07-16 08", 0.8033), ("07-16 16", 0.8035), ("07-17 00", 0.8036), ("07-17 08", 0.8037), ("07-17 20", 0.8038),
    ("07-19 20", 0.8040), ("07-20 04", 0.8042), ("07-20 08", 0.8044), ("07-20 12", 0.8046), ("07-20 20", 0.8051),
    ("07-21 00", 0.8052), ("07-21 08", 0.8054), ("07-21 16", 0.8057), ("07-22 00", 0.8058), ("07-22 08", 0.8061),
    ("07-22 16", 0.8064), ("07-23 00", 0.8066), ("07-23 04", 0.8067),
]

series = [
    ("Close", close),
    ("Basis EMA", basis_ema),
    ("Upper band", upper_band),
    ("Lower band", lower_band),
    ("Regression mid", reg_mid),
    ("Regression upper", reg_upper),
    ("Regression lower", reg_lower),
]


def to_frame(pairs):
    t, v = zip(*pairs)
    idx = pd.to_datetime(["2026-" + s for s in t], format="%Y-%m-%d %H")
    return idx, list(v)


fig, ax = plt.subplots(figsize=(14, 7), dpi=100)

for label, pairs in series:
    x, y = to_frame(pairs)
    ax.plot(x, y, label=label, linewidth=1.5, zorder=2)

# watermark
ax.text(0.5, 0.487, "HorusSignals", transform=fig.transFigure,
        fontsize=75, style="italic", color="white", rotation=-18,
        ha="center", va="center", zorder=1,
        path_effects=[pe.SimplePatchShadow(offset=(3, -3), shadow_rgbFace="0.6", alpha=0.35),
                      pe.Stroke(linewidth=1.0, foreground="0.75"),
                      pe.Normal()])

ax.set_title("USDCHF H4 - Horus-like Price Bands & Regression")
ax.set_xlabel("Time")
ax.set_ylabel("Price")
ax.grid(True, alpha=0.3)
ax.legend(loc="upper left")

plt.tight_layout()
plt.savefig("out.png", dpi=1600 / 14)
